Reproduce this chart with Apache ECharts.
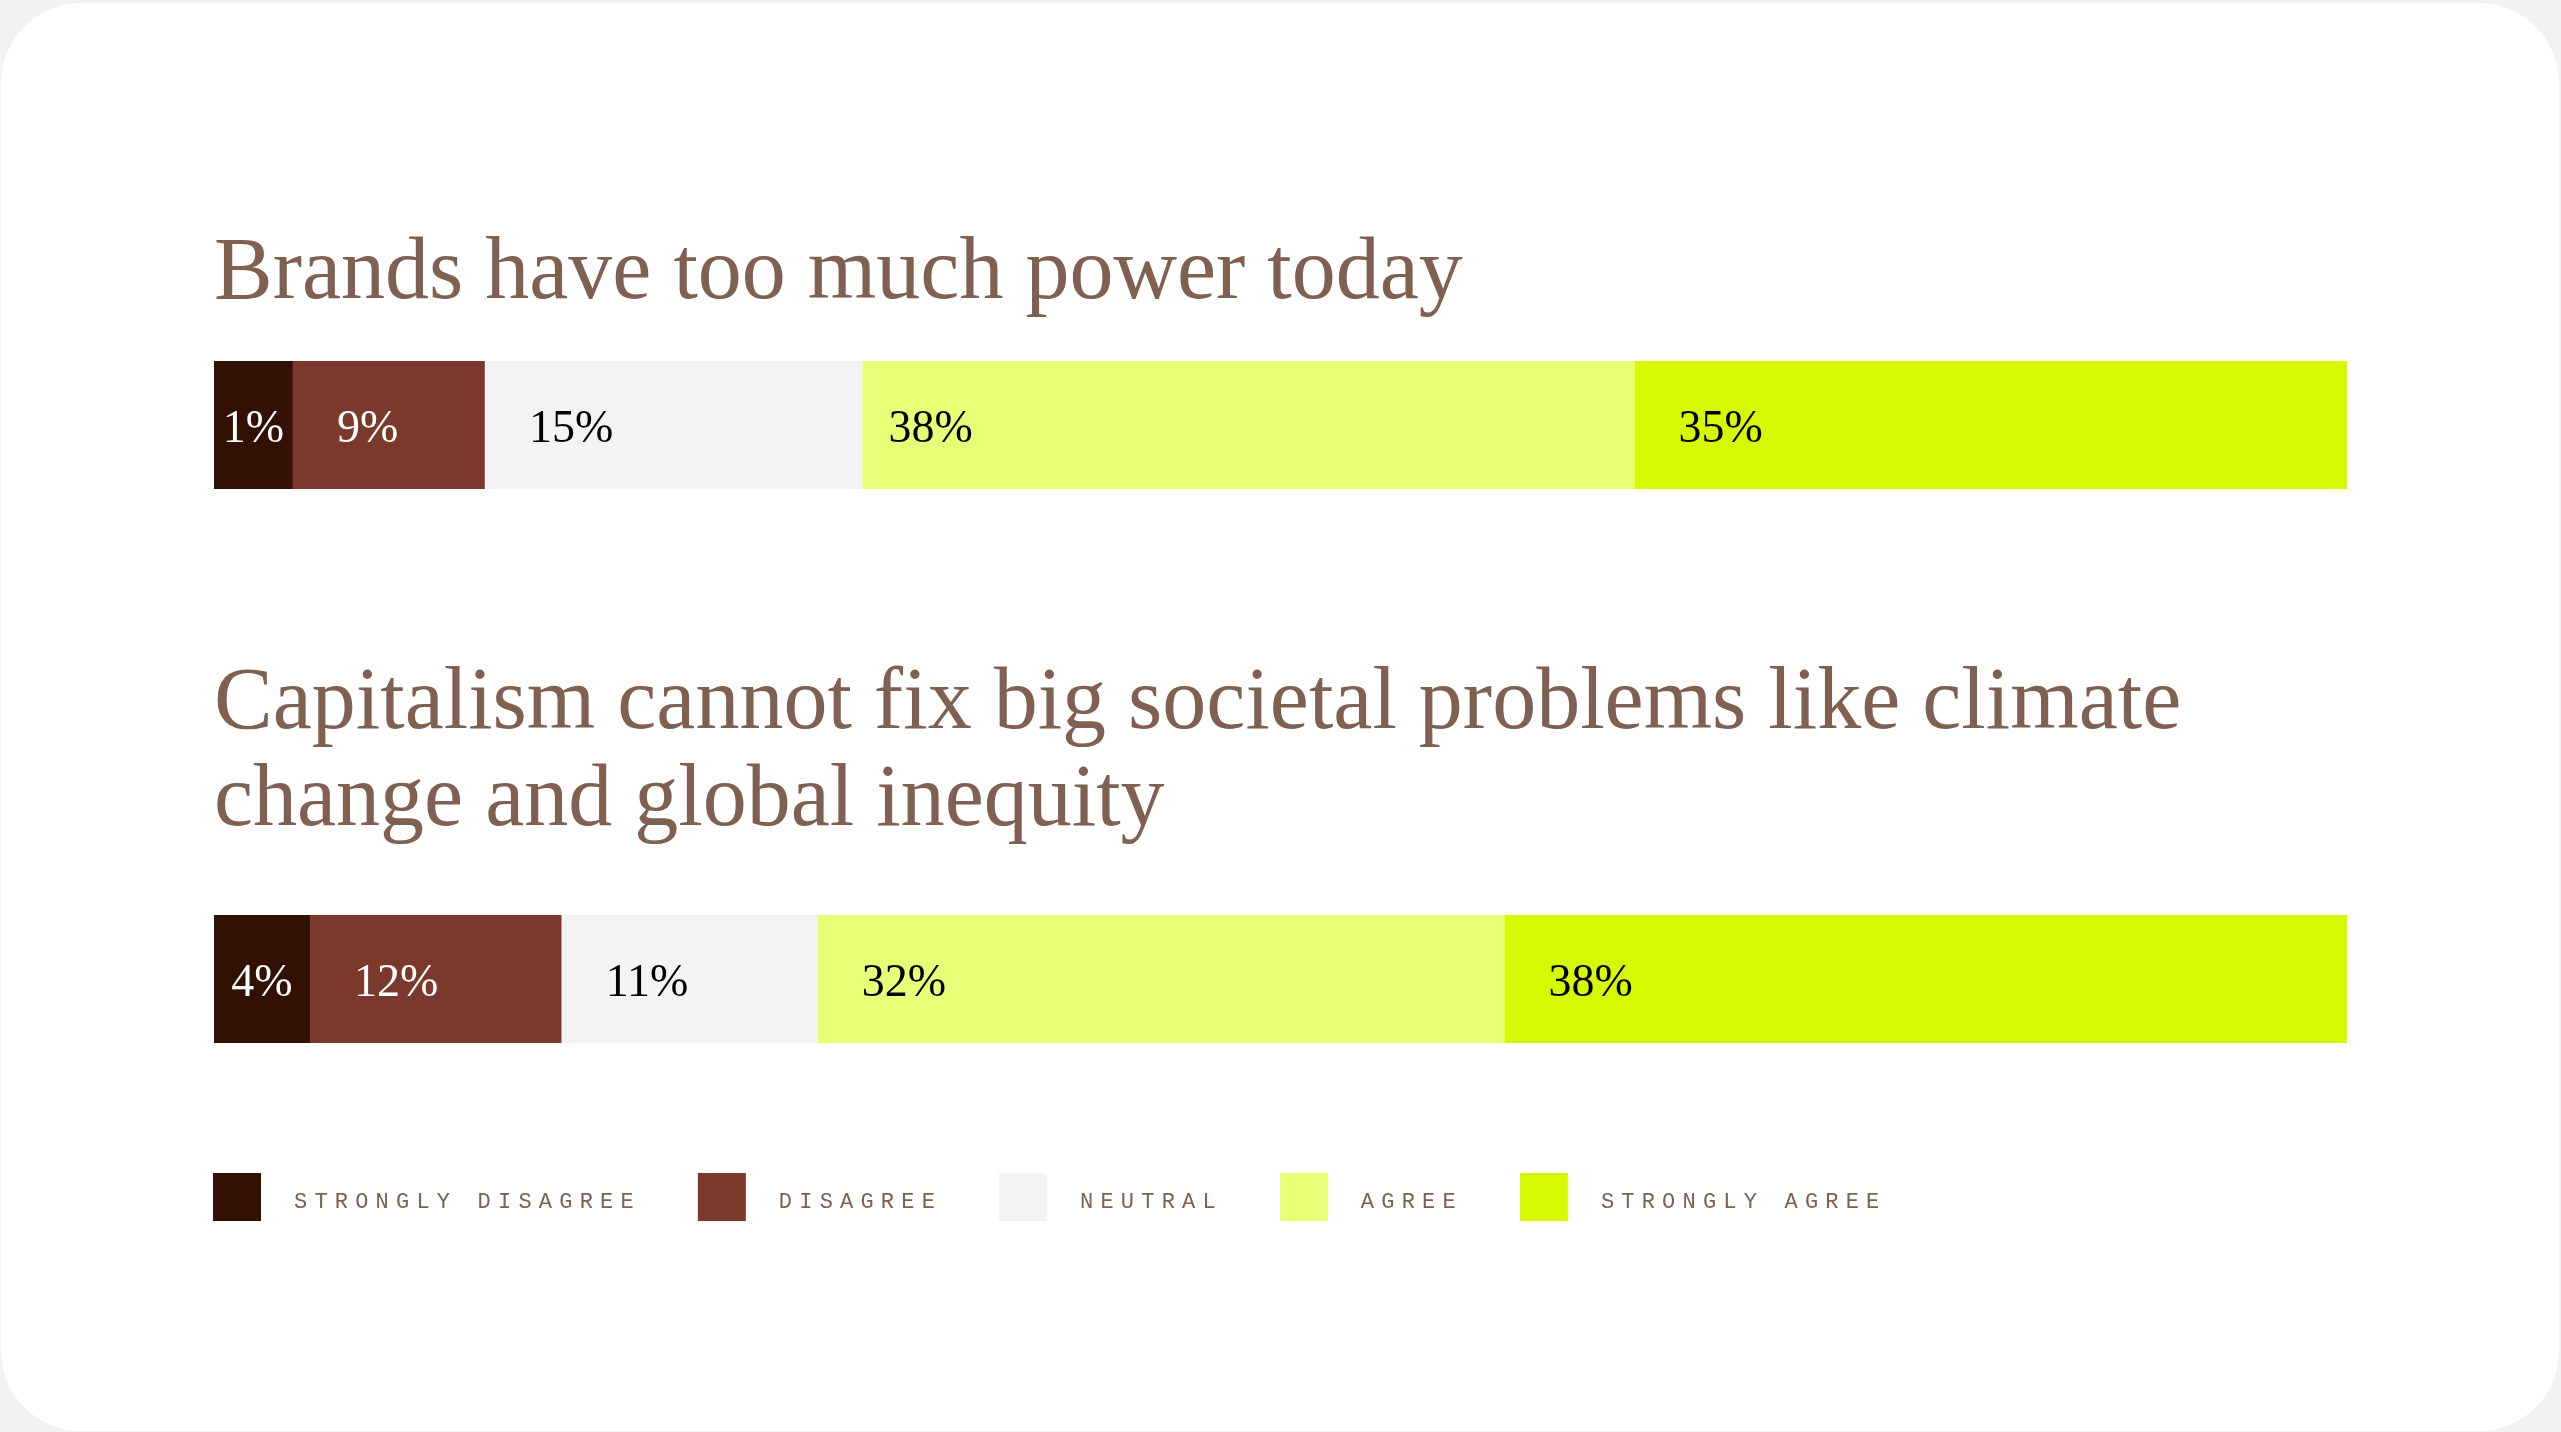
<!DOCTYPE html>
<html>
<head>
<meta charset="utf-8">
<title>Brands and capitalism – survey</title>
<script src="https://cdn.jsdelivr.net/npm/echarts@6/dist/echarts.min.js"></script>
<style>
  html, body { margin: 0; padding: 0; background: #f2f2f2; }
  #card {
    position: absolute; left: 1px; top: 3px; width: 2558px; height: 1428px;
    background: #ffffff; border-radius: 80px;
  }
  #chart { position: absolute; left: 0; top: 0; width: 2561px; height: 1432px; }
</style>
</head>
<body>
<div id="card"></div>
<div id="chart"></div>
<script>
// questions (one bar each), answer scale and figures
const questions = [
  'Brands have too much power today',
  'Capitalism cannot fix big societal problems like climate\nchange and global inequity',
]
const responses = ['STRONGLY DISAGREE', 'DISAGREE', 'NEUTRAL', 'AGREE', 'STRONGLY AGREE']

// printed percentages
const brandsPct = [1, 9, 15, 38, 35]
const capitalismPct = [4, 12, 11, 32, 38]

// segment lengths as drawn (share of the full bar)
const brandsShare = [3.7, 9.0, 17.7, 36.2, 33.4]
const capitalismShare = [4.5, 11.8, 12.0, 32.2, 39.5]

const palette = ['#321104', '#7b392c', '#f3f3f3', '#e9fe77', '#d4f900']
const labelInk = ['#ffffff', '#ffffff', '#000000', '#000000', '#000000']
const brown = '#7f6051'

// legend uses tracked-out mono caps; canvas has letterSpacing, zrender doesn't expose it
const fontProp = Object.getOwnPropertyDescriptor(CanvasRenderingContext2D.prototype, 'font')
Object.defineProperty(CanvasRenderingContext2D.prototype, 'font', {
  configurable: true,
  get() { return fontProp.get.call(this) },
  set(v) {
    fontProp.set.call(this, v)
    if ('letterSpacing' in this) this.letterSpacing = /Mono/.test(v) ? '7.2px' : '0px'
  },
})

const shares = [brandsShare, capitalismShare]
const pcts = [brandsPct, capitalismPct]

const titleStyle = {
  fontFamily: 'Liberation Serif',
  fontSize: 88,
  fontWeight: 'normal',
  color: brown,
  lineHeight: 97,
}

const series = responses.map((name, i) => ({
  name,
  type: 'bar',
  stack: 'total',
  barWidth: 128,
  itemStyle: { color: palette[i] },
  emphasis: { disabled: true },
  label: {
    show: true,
    position: i === 0 ? 'inside' : 'insideLeft',
    distance: 44,
    offset: [0, 5],
    fontFamily: 'Liberation Serif',
    fontSize: 46,
    color: labelInk[i],
    formatter: (p) => pcts[p.dataIndex][i] + '%',
  },
  data: shares.map((row, j) => {
    // the 38% on the first bar sits closer to its segment edge
    if (j === 0 && i === 3) return { value: row[i], label: { distance: 26 } }
    return row[i]
  }),
}))

const chart = echarts.init(document.getElementById('chart'))
chart.setOption({
  animation: false,
  backgroundColor: 'transparent',
  title: [
    { text: questions[0], left: 214, top: 226, padding: 0, textStyle: titleStyle },
    { text: questions[1], left: 214, top: 656, padding: 0, textStyle: titleStyle },
  ],
  legend: {
    data: responses,
    left: 213,
    top: 1173,
    padding: 0,
    icon: 'rect',
    itemWidth: 48,
    itemHeight: 48,
    itemGap: 57,
    selectedMode: false,
    formatter: '{t|{name}}',
    textStyle: {
      fontFamily: 'Liberation Mono',
      fontSize: 22,
      color: brown,
      padding: [0, 0, 0, 28],
      rich: {
        t: { fontFamily: 'Liberation Mono', fontSize: 22, color: brown, padding: [10, 0, 0, 0] },
      },
    },
  },
  grid: { left: 214, right: 214, top: 148, bottom: 176 },
  xAxis: { type: 'value', min: 0, max: 100, show: false },
  yAxis: { type: 'category', data: questions, inverse: true, show: false },
  series,
})
</script>
</body>
</html>
